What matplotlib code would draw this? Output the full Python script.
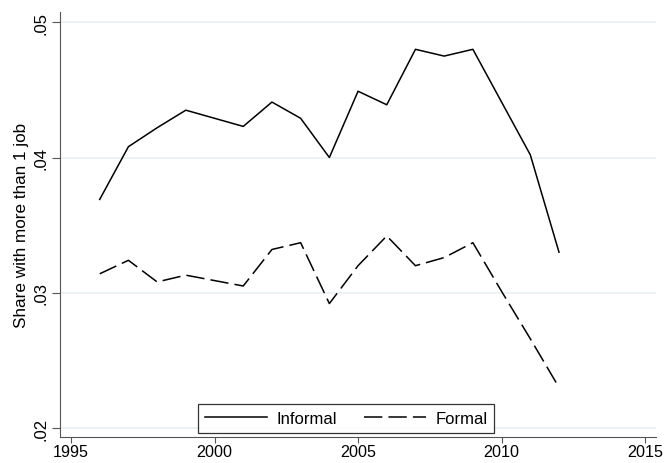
import matplotlib.pyplot as plt
import numpy as np

# share of workers holding more than one job, by sector

years = np.arange(1996, 2013)
informal = np.array([0.0369, 0.0408, 0.0422, 0.0435, 0.0429, 0.0423, 0.0441, 0.0429,
                     0.0400, 0.0449, 0.0439, 0.0480, 0.0475, 0.0480, 0.0441, 0.0402, 0.0330])
formal = np.array([0.0314, 0.0324, 0.0308, 0.0313, 0.0309, 0.0305, 0.0332, 0.0337,
                   0.0292, 0.0320, 0.0342, 0.0320, 0.0326, 0.0337, 0.0301, 0.0266, 0.0230])

xticks = [1995, 2000, 2005, 2010, 2015]
yticks = [0.02, 0.03, 0.04, 0.05]
ytick_labels = [".02", ".03", ".04", ".05"]

plt.rcParams["font.family"] = ["Liberation Sans", "DejaVu Sans"]

fig = plt.figure(figsize=(6.65, 4.64), dpi=100)
ax = fig.add_axes([0.0895, 0.0571, 0.897, 0.9149])

ax.plot(years, informal, color="black", lw=1.1, label="Informal")
ax.plot(years, formal, color="black", lw=1.1, dashes=(12, 4), label="Formal")

ax.set_xlim(1994.6, 2015.38)
ax.set_ylim(0.01937, 0.05076)
ax.set_xticks(xticks)
ax.set_yticks(yticks)
ax.set_yticklabels(ytick_labels, rotation=90, va="center")
ax.tick_params(axis="y", labelsize=12, color="#555555", length=5.5, pad=2.5)
ax.tick_params(axis="x", labelsize=11.6, color="#555555", length=4.5, pad=1.0)
ax.grid(axis="y", color="#eaf1f3", lw=1.2)
ax.set_axisbelow(True)

for s in ["top", "right"]:
    ax.spines[s].set_visible(False)
for s in ["left", "bottom"]:
    ax.spines[s].set_color("#555555")

ax.set_ylabel("Share with more than 1 job", fontsize=12.3, labelpad=3)

leg = ax.legend(loc="lower center", ncol=2, bbox_to_anchor=(0.481, 0.0), fontsize=12,
                frameon=True, fancybox=False, edgecolor="black", handlelength=3.7,
                columnspacing=1.6, borderpad=0.4, handletextpad=0.6, borderaxespad=0.24)
leg.get_frame().set_linewidth(0.9)

fig.savefig("out.png", dpi=100)
